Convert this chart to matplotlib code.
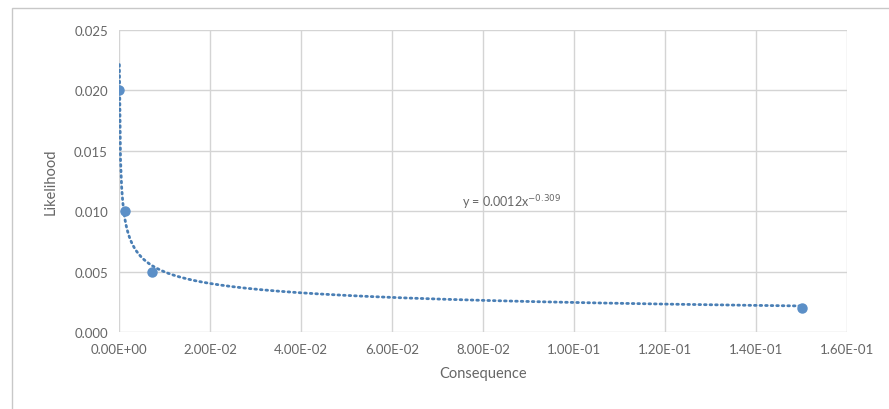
import numpy as np
import matplotlib
matplotlib.use("Agg")
import matplotlib.pyplot as plt
from matplotlib.patches import Rectangle

plt.rcParams['font.family'] = ['Lato', 'DejaVu Sans']

# Data
consequence = [0.0001, 0.0013, 0.0073, 0.15]
likelihood = [0.020, 0.010, 0.005, 0.002]
trend_a = 0.0012
trend_b = -0.309
x_ticks = [0.00, 0.02, 0.04, 0.06, 0.08, 0.10, 0.12, 0.14, 0.16]
y_ticks = [0.000, 0.005, 0.010, 0.015, 0.020, 0.025]

fig = plt.figure(figsize=(8.89, 4.10), dpi=100)
# outer chart frame
fig.patches.append(Rectangle((12/889, -0.05), 1.0, (410-9)/410 + 0.05,
                             transform=fig.transFigure, fill=False,
                             edgecolor='#c8c8c8', linewidth=1.0))
ax = fig.add_axes([119/889, (410-333)/410, (847-119)/889, (333-31)/410])

# trendline (power fit shown in label)
xt = np.linspace(0.00008, max(consequence), 600)
yt = trend_a * xt ** trend_b
ax.plot(xt, yt, linestyle=(0, (0.6, 1.4)), color='#4a7fb5', linewidth=2.0,
        dash_capstyle='round', zorder=3)
ax.plot(consequence, likelihood, 'o', color='#5b8fc7', markersize=6.5, zorder=4)

ax.set_xlim(0, 0.16)
ax.set_ylim(0, 0.025)
ax.set_xticks(x_ticks)
ax.set_yticks(y_ticks)
ax.set_xticklabels([f"{v:.2E}" for v in x_ticks])
ax.set_yticklabels([f"{v:.3f}" for v in y_ticks])
ax.grid(True, color='#d4d4d4', linewidth=1.0)
ax.set_axisbelow(True)
for s in ax.spines.values():
    s.set_visible(False)
ax.tick_params(length=0, labelsize=9.5, labelcolor='#666666', pad=8)
ax.set_xlabel("Consequence", fontsize=10.5, color='#666666', labelpad=8)
ax.set_ylabel("Likelihood", fontsize=10.5, color='#666666', labelpad=12)

ax.text(0.0754, 0.0108, r"y = 0.0012x$^{-0.309}$", fontsize=9, color='#666666',
        ha='left', va='center')

fig.savefig("out.png", dpi=100)
